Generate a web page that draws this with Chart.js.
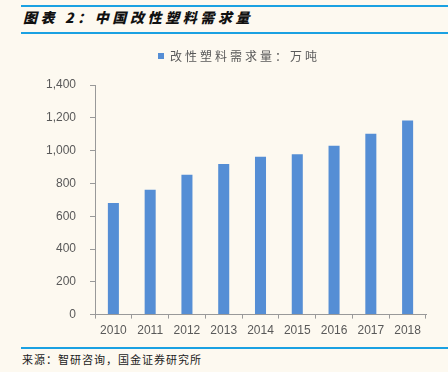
<!DOCTYPE html>
<html>
<head>
<meta charset="utf-8">
<script src="https://cdn.jsdelivr.net/npm/chart.js@4"></script>
<style>
  body { margin: 0; width: 448px; height: 372px; background: #fdf9f0; position: relative; overflow: hidden; font-family: "Noto Sans CJK SC", sans-serif; }
  .linha { position: absolute; left: 21px; right: 0; height: 2px; background: #1ba1e2; }
  #titulo { position: absolute; left: 23px; top: 7px; font-size: 14px; font-weight: 900; font-style: italic; color: #111; letter-spacing: 3.6px; white-space: pre; }
  #fonte { position: absolute; left: 22px; top: 351px; font-size: 11px; color: #222; letter-spacing: 1px; }
  #caixa { position: absolute; left: 30px; top: 36px; width: 418px; height: 307px; }
</style>
</head>
<body>
<div class="linha" style="top:5px"></div>
<div id="titulo">图表 2：中国改性塑料需求量</div>
<div class="linha" style="top:32px"></div>
<div id="caixa"><canvas id="graficoBarra"></canvas></div>
<div class="linha" style="top:347px"></div>
<div id="fonte">来源：智研咨询，国金证券研究所</div>

<script>
const anos = ["2010", "2011", "2012", "2013", "2014", "2015", "2016", "2017", "2018"];
const demanda = [680, 762, 852, 919, 962, 978, 1029, 1102, 1184];
const rotuloSerie = "改性塑料需求量：万吨";

// legenda com espaço entre letras, um pouco à direita e mais altura embaixo
const ajusteLegenda = {
  id: "ajusteLegenda",
  afterInit: function (chart) {
    const leg = chart.legend;
    const fitOrig = leg.fit;
    const drawOrig = leg.draw;
    leg.fit = function () {
      this.ctx.save();
      this.ctx.letterSpacing = "3px";
      fitOrig.call(this);
      this.ctx.restore();
      this.height += 13;
    };
    leg.draw = function () {
      this.ctx.save();
      this.ctx.letterSpacing = "3px";
      this.ctx.translate(11, 0);
      drawOrig.call(this);
      this.ctx.restore();
    };
  },
};

new Chart(document.getElementById("graficoBarra"), {
  type: "bar",
  data: {
    labels: anos,
    datasets: [
      {
        label: rotuloSerie,
        data: demanda,
        backgroundColor: "#558ed5",
        barPercentage: 0.3,
        categoryPercentage: 1,
      },
    ],
  },
  plugins: [ajusteLegenda],
  options: {
    responsive: true,
    maintainAspectRatio: false,
    animation: false,
    layout: { padding: { top: 0, right: 22, bottom: 0, left: 0 } },
    plugins: {
      legend: {
        display: true,
        labels: {
          boxWidth: 6,
          boxHeight: 6,
          padding: 14,
          color: "#595959",
          font: { size: 12, family: "Noto Sans CJK SC" },
        },
      },
      tooltip: { enabled: false },
    },
    scales: {
      x: {
        grid: { drawOnChartArea: false, tickLength: 4, color: "#999", offset: true },
        border: { color: "#999" },
        ticks: { color: "#595959", font: { size: 12, family: "Liberation Sans" }, padding: 5 },
      },
      y: {
        min: 0,
        max: 1400,
        afterFit: function (escala) { escala.width = 65; },
        grid: { drawOnChartArea: false, tickLength: 5, color: "#999" },
        border: { color: "#999" },
        ticks: {
          stepSize: 200,
          color: "#595959",
          padding: 14,
          font: { size: 12, family: "Liberation Sans" },
          callback: function (v) { return v.toLocaleString("en-US"); },
        },
      },
    },
  },
});
</script>
</body>
</html>
